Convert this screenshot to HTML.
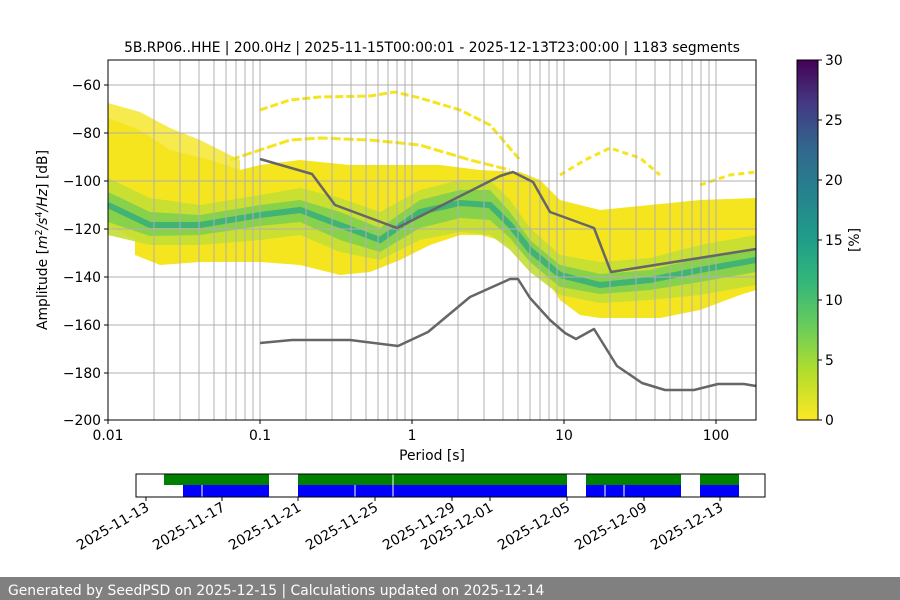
<!DOCTYPE html>
<html><head><meta charset="utf-8"><style>
body{margin:0;background:#fff;}
svg{display:block;font-family:"DejaVu Sans","Liberation Sans",sans-serif;}
</style></head><body>
<svg width="900" height="600" viewBox="0 0 900 600" xmlns="http://www.w3.org/2000/svg">
<defs>
<linearGradient id="vir" x1="0" y1="1" x2="0" y2="0">
<stop offset="0" stop-color="#fde725"/><stop offset="0.13" stop-color="#b5de2b"/>
<stop offset="0.25" stop-color="#6ece58"/><stop offset="0.38" stop-color="#35b779"/>
<stop offset="0.5" stop-color="#1f9e89"/><stop offset="0.63" stop-color="#26828e"/>
<stop offset="0.75" stop-color="#31688e"/><stop offset="0.88" stop-color="#443983"/>
<stop offset="1" stop-color="#440154"/></linearGradient>
<clipPath id="ax"><rect x="108" y="60" width="648" height="360"/></clipPath>
</defs>
<text x="432" y="52" font-size="13.8" text-anchor="middle">5B.RP06..HHE | 200.0Hz | 2025-11-15T00:00:01 - 2025-12-13T23:00:00 | 1183 segments</text>
<g clip-path="url(#ax)">
<path d="M108,118 L140,130 170,150 210,160 240,170 260,165 300,160 350,165 400,165 440,165 480,170 520,172 540,180 560,200 600,210 650,205 700,200 756,198 L756,290 740,295 700,310 660,318 600,318 580,315 560,300 540,270 520,250 500,240 480,235 460,235 430,245 400,260 370,272 340,275 300,265 260,262 200,262 160,265 135,255 135,240 108,225Z" fill="#f5e51f"/>
<path d="M108,103 L140,112 170,128 200,140 220,150 240,160 L240,170 200,165 150,145 108,125Z" fill="#f5e51f" opacity="0.8"/>
<path d="M108,178 L150,198 200,205 260,195 300,188 340,198 380,212 420,190 460,180 490,180 510,200 530,228 560,255 600,262 650,258 700,245 756,235 L756,285 700,295 650,300 600,303 560,295 530,272 510,250 490,235 460,232 420,240 380,260 340,252 300,235 260,240 200,245 150,245 108,235Z" fill="#c4df34" opacity="0.9"/>
<path d="M108,192 L150,212 200,215 260,205 300,200 340,212 380,228 420,200 460,190 490,190 510,212 530,240 560,265 600,274 650,270 700,258 756,248 L756,272 700,282 650,290 600,294 560,287 530,262 510,238 490,220 460,218 420,228 380,252 340,240 300,222 260,226 200,235 150,236 108,222Z" fill="#7fcf4e" opacity="0.9"/>
<path d="M108,205 L150,225 200,225 260,215 300,210 340,225 380,240 420,212 460,203 490,205 510,225 530,250 560,275 600,285 650,280 700,270 756,260" fill="none" stroke="#2fab7f" stroke-width="6" opacity="0.8"/>
<path d="M260,110 L290,100 320,97 370,96 395,92 420,98 460,110 490,125 520,160" fill="none" stroke="#f5e51f" stroke-width="3" stroke-dasharray="8,3"/>
<path d="M230,160 L260,150 290,140 320,138 370,140 420,145 470,160 510,170" fill="none" stroke="#f5e51f" stroke-width="3" stroke-dasharray="10,3"/>
<path d="M560,175 L585,160 610,148 640,158 660,175" fill="none" stroke="#f5e51f" stroke-width="3" stroke-dasharray="6,4"/>
<path d="M700,185 L730,175 756,172" fill="none" stroke="#f5e51f" stroke-width="3" stroke-dasharray="6,4"/>
<g stroke="#b0b0b0" stroke-width="1">
<line x1="108" y1="85" x2="756" y2="85"/><line x1="108" y1="133" x2="756" y2="133"/><line x1="108" y1="181" x2="756" y2="181"/><line x1="108" y1="229" x2="756" y2="229"/><line x1="108" y1="277" x2="756" y2="277"/><line x1="108" y1="325" x2="756" y2="325"/><line x1="108" y1="373" x2="756" y2="373"/>
<path d="M154,60V420M180,60V420M199,60V420M214,60V420M226,60V420M236,60V420M245,60V420M253,60V420M260,60V420M306,60V420M332,60V420M351,60V420M366,60V420M378,60V420M388,60V420M397,60V420M405,60V420M412,60V420M458,60V420M484,60V420M503,60V420M518,60V420M530,60V420M540,60V420M549,60V420M557,60V420M564,60V420M610,60V420M636,60V420M655,60V420M670,60V420M682,60V420M692,60V420M701,60V420M709,60V420M716,60V420"/>
</g>
<g fill="none" stroke="#666" stroke-width="2.5" stroke-linejoin="round">
<polyline points="260,159 312,174 335,205 397,228 500,176 513,172 533,182 550,212 594,228 611,272 756,249"/>
<polyline points="260,343 292,340 350,340 398,346 428,332 470,297 510,279 518,279 530,298 550,320 565,333 576,339 594,329 617,366 642,383 665,390 694,390 718,384 744,384 756,386"/>
</g>
</g>
<rect x="108" y="60" width="648" height="360" fill="none" stroke="#000" stroke-width="1"/>
<g stroke="#000"><path d="M104,85h4M104,133h4M104,181h4M104,229h4M104,277h4M104,325h4M104,373h4M104,420h4M108,420v4M260,420v4M412,420v4M564,420v4M716,420v4"/></g>
<g font-size="13.9" text-anchor="end">
<text x="101" y="90">−60</text><text x="101" y="138">−80</text><text x="101" y="186">−100</text><text x="101" y="234">−120</text><text x="101" y="282">−140</text><text x="101" y="330">−160</text><text x="101" y="378">−180</text><text x="101" y="425">−200</text></g>
<g font-size="13.9" text-anchor="middle">
<text x="108" y="440">0.01</text><text x="260" y="440">0.1</text><text x="412" y="440">1</text><text x="564" y="440">10</text><text x="716" y="440">100</text>
<text x="432" y="460">Period [s]</text></g>
<text transform="translate(47,240) rotate(-90)" font-size="13.9" text-anchor="middle">Amplitude [<tspan font-style="italic">m</tspan><tspan font-size="9.5" dy="-5">2</tspan><tspan dy="5" font-style="italic">/s</tspan><tspan font-size="9.5" dy="-5">4</tspan><tspan dy="5" font-style="italic">/Hz</tspan>] [dB]</text>
<rect x="797" y="60" width="21" height="360" fill="url(#vir)" stroke="#000" stroke-width="1"/>
<g stroke="#000"><path d="M818,60h4M818,120h4M818,180h4M818,240h4M818,300h4M818,360h4M818,420h4"/></g>
<g font-size="13.9"><text x="825" y="65">30</text><text x="825" y="125">25</text><text x="825" y="185">20</text><text x="825" y="245">15</text><text x="825" y="305">10</text><text x="825" y="365">5</text><text x="825" y="425">0</text></g>
<text transform="translate(859,240) rotate(-90)" font-size="13.9" text-anchor="middle">[%]</text>
<g fill="green"><rect x="164" y="474" width="105" height="11"/><rect x="298" y="474" width="269" height="11"/><rect x="586" y="474" width="95" height="11"/><rect x="700" y="474" width="39" height="11"/></g>
<g fill="#0000ff"><rect x="183" y="485" width="86" height="12"/><rect x="298" y="485" width="269" height="12"/><rect x="586" y="485" width="95" height="12"/><rect x="700" y="485" width="39" height="12"/></g>
<g stroke="#fff" stroke-width="1"><path d="M202,485v12M355,485v12M393,474v23M605,485v12M624,485v12"/></g>
<rect x="136" y="474" width="629" height="23" fill="none" stroke="#000"/>
<g stroke="#000"><path d="M146,497v4M222,497v4M298,497v4M375,497v4M452,497v4M490,497v4M567,497v4M644,497v4M720,497v4"/></g>
<g font-size="13.9" text-anchor="end">
<text transform="translate(150,510) rotate(-30)">2025-11-13</text>
<text transform="translate(226,510) rotate(-30)">2025-11-17</text>
<text transform="translate(302,510) rotate(-30)">2025-11-21</text>
<text transform="translate(379,510) rotate(-30)">2025-11-25</text>
<text transform="translate(456,510) rotate(-30)">2025-11-29</text>
<text transform="translate(494,510) rotate(-30)">2025-12-01</text>
<text transform="translate(571,510) rotate(-30)">2025-12-05</text>
<text transform="translate(648,510) rotate(-30)">2025-12-09</text>
<text transform="translate(724,510) rotate(-30)">2025-12-13</text></g>
<rect x="0" y="577" width="900" height="23" fill="#808080"/>
<text x="8" y="595" font-size="13.9" fill="#fff">Generated by SeedPSD on 2025-12-15 | Calculations updated on 2025-12-14</text>
</svg>
</body></html>
